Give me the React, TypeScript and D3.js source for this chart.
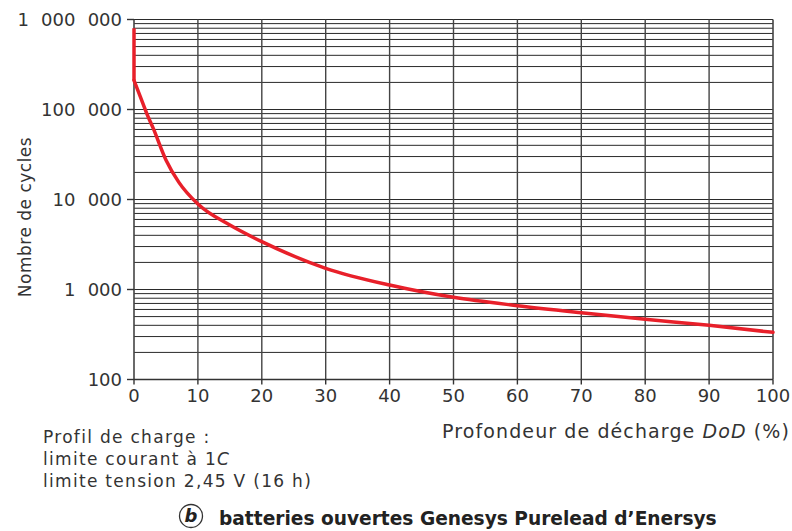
import React from "react";
import * as d3 from "d3";

// lecture du graphique (DoD en %, nombre de cycles)
const dod = [0, 1, 2, 3, 5, 7, 10, 15, 20, 30, 40, 50, 60, 70, 80, 90, 100];
const cycles = [
  210000, 138000, 90000, 62000, 27500, 15600, 8900, 5200, 3400, 1720, 1120,
  818, 661, 552, 467, 400, 334,
];
// segment vertical à DoD = 0
const startDod = [0, 0];
const startCycles = [800000, 210000];

const xTicks = [0, 10, 20, 30, 40, 50, 60, 70, 80, 90, 100];
const yTicks = [100, 1000, 10000, 100000, 1000000];
const yTickLabels = ["100", "1 000", "10 000", "100 000", "1 000 000"];

const W = 792;
const H = 531;
const FONT = "'DejaVu Sans', sans-serif";
const TXT = "#333";

const App: React.FC = () => {
  const x = d3.scaleLinear().domain([0, 100]).range([134, 773]);
  const y = d3.scaleLog().domain([100, 1000000]).range([379.5, 19.5]);

  // lignes de grille (1..9 par décade)
  const minor: number[] = [];
  for (let k = 2; k < 6; k++) {
    for (let m = 1; m <= 9; m++) minor.push(m * Math.pow(10, k));
  }
  minor.push(1000000);

  const pts = dod.map((d, i) => [d, cycles[i]] as [number, number]);
  const line = d3
    .line<[number, number]>()
    .x((d) => x(d[0]))
    .y((d) => y(d[1]))
    .curve(d3.curveMonotoneX);
  const seg = d3
    .line<[number, number]>()
    .x((d) => x(d[0]))
    .y((d) => y(d[1]));
  const startPts = startDod.map((d, i) => [d, startCycles[i]] as [number, number]);

  const [x0, x1] = x.range();
  const [yb, yt] = y.range();

  return (
    <svg
      width={W}
      height={H}
      style={{ position: "absolute", left: 0, top: 0, background: "#fff" }}
    >
      <rect width={W} height={H} fill="#fff" />

      {/* grille horizontale */}
      {minor.map((v) => (
        <line
          key={"h" + v}
          x1={x0}
          x2={x1}
          y1={y(v)}
          y2={y(v)}
          stroke="#2a2a2a"
          strokeWidth={1}
        />
      ))}

      {/* grille verticale */}
      {xTicks.map((t) => (
        <line
          key={"v" + t}
          x1={x(t)}
          x2={x(t)}
          y1={yt}
          y2={yb}
          stroke="#444"
          strokeWidth={t === 0 || t === 100 ? 1.6 : 1.4}
        />
      ))}
      <line x1={x0} x2={x1} y1={yb} y2={yb} stroke="#333" strokeWidth={1.6} />

      {/* graduations Y */}
      {yTicks.map((t, i) => (
        <g key={"yt" + t}>
          <line x1={x0 - 7} x2={x0} y1={y(t)} y2={y(t)} stroke="#333" strokeWidth={1.4} />
          <text
            x={122}
            y={y(t)}
            dy="0.36em"
            textAnchor="end"
            fontFamily={FONT}
            fontSize={18}
            fill={TXT}
            style={{ wordSpacing: "6.5px" }}
          >
            {yTickLabels[i]}
          </text>
        </g>
      ))}

      {/* graduations X */}
      {xTicks.map((t) => (
        <g key={"xt" + t}>
          <line x1={x(t)} x2={x(t)} y1={yb} y2={yb + 5} stroke="#333" strokeWidth={1.4} />
          <text
            x={x(t)}
            y={402}
            textAnchor="middle"
            fontFamily={FONT}
            fontSize={18}
            fill={TXT}
          >
            {t}
          </text>
        </g>
      ))}

      {/* courbe */}
      <path
        d={seg(startPts) || ""}
        fill="none"
        stroke="#e8202a"
        strokeWidth={3.5}
      />
      <path
        d={line(pts) || ""}
        fill="none"
        stroke="#e8202a"
        strokeWidth={3.5}
        strokeLinecap="round"
      />

      {/* titres des axes */}
      <text
        transform="translate(31,217) rotate(-90)"
        textAnchor="middle"
        fontFamily={FONT}
        fontSize={17}
        fill={TXT}
        style={{ letterSpacing: "0.5px" }}
      >
        Nombre de cycles
      </text>
      <text
        x={790}
        y={438}
        textAnchor="end"
        fontFamily={FONT}
        fontSize={19}
        fill={TXT}
        style={{ letterSpacing: "1.1px" }}
      >
        Profondeur de décharge <tspan fontStyle="italic">DoD</tspan> (%)
      </text>

      {/* profil de charge */}
      <g fontFamily={FONT} fontSize={17} fill={TXT} style={{ letterSpacing: "1.3px" }}>
        <text x={43} y={443}>Profil de charge :</text>
        <text x={43} y={465}>
          limite courant à 1<tspan fontStyle="italic">C</tspan>
        </text>
        <text x={43} y={487}>limite tension 2,45 V (16 h)</text>
      </g>

      {/* légende */}
      <circle cx={191} cy={516} r={11.5} fill="none" stroke="#333" strokeWidth={1.3} />
      <text
        x={191}
        y={522}
        textAnchor="middle"
        fontFamily={FONT}
        fontSize={18}
        fontWeight="bold"
        fontStyle="italic"
        fill="#222"
      >
        b
      </text>
      <text
        x={219}
        y={525}
        fontFamily={FONT}
        fontSize={18.6}
        fontWeight="bold"
        fill="#222"
      >
        batteries ouvertes Genesys Purelead d’Enersys
      </text>
    </svg>
  );
};

export default App;
